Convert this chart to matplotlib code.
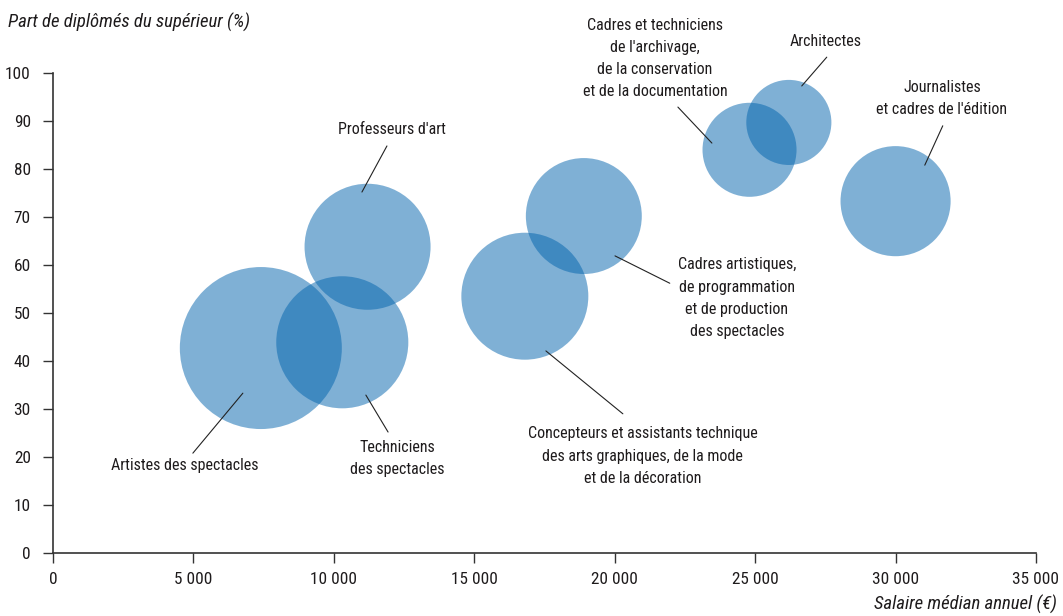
import matplotlib
matplotlib.use("Agg")
import matplotlib.pyplot as plt
from matplotlib import font_manager
from matplotlib.ticker import FuncFormatter, MultipleLocator

# police étroite si une est installée, sinon DejaVu Sans condensée
etroites = {"condensed", "semi-condensed", "extra-condensed", "ultra-condensed"}
police, stretch = "DejaVu Sans", "condensed"
for f in font_manager.fontManager.ttflist:
    if f.name in ("Liberation Sans Narrow", "Roboto Condensed", "Open Sans Condensed"):
        police, stretch = f.name, "normal"
        break
    if f.name in ("Noto Sans", "Roboto", "Open Sans") and str(f.stretch) in etroites:
        police, stretch = f.name, f.stretch
plt.rcParams["font.family"] = [police, "DejaVu Sans"]

metiers = [
    "Artistes des spectacles",
    "Techniciens\ndes spectacles",
    "Professeurs d'art",
    "Concepteurs et assistants technique\ndes arts graphiques, de la mode\net de la décoration",
    "Cadres artistiques,\nde programmation\net de production\ndes spectacles",
    "Cadres et techniciens\nde l'archivage,\nde la conservation\net de la documentation",
    "Architectes",
    "Journalistes\net cadres de l'édition",
]
salaire = [7400, 10300, 11200, 16800, 18900, 24800, 26200, 30000]
diplomes = [42.7, 43.9, 63.8, 53.5, 70.2, 84.0, 89.7, 73.3]
effectif = [65.6, 43.6, 39.7, 40.3, 33.6, 22.1, 18.1, 30.3]

# traits de rappel (début, fin) et centre des étiquettes
rappels = [
    ((6760, 33.3), (4980, 20.8), (4700, 18.3)),
    ((11140, 32.9), (11930, 25.2), (12250, 19.7)),
    ((11000, 75.2), (11890, 84.8), (12070, 88.3)),
    ((17550, 42.1), (20290, 29.0), (21000, 20.2)),
    ((20010, 61.9), (21960, 56.2), (24350, 53.1)),
    ((23460, 85.4), (22250, 92.9), (21430, 103.0)),
    ((26660, 97.3), (27550, 103.3), (27520, 106.5)),
    ((31040, 80.8), (31680, 89.0), (31650, 94.7)),
]

fig = plt.figure(figsize=(10.63, 6.16), dpi=100)
ax = fig.add_axes([53 / 1063, 63 / 616, 983 / 1063, 480 / 616])
rend = fig.canvas.get_renderer()

# taille de police réglée sur la largeur de "Artistes des spectacles" (~146 px)
essai = fig.text(0, 0, metiers[0], fontsize=10, fontstretch=stretch)
taille = 10 * 146 / essai.get_window_extent(rend).width
essai.set_fontsize(taille)
essai.set_linespacing(1.0)
h1 = essai.get_window_extent(rend).height
essai.set_text("A\nA")
pas = essai.get_window_extent(rend).height - h1
interligne = 24 / pas
essai.remove()

ax.scatter(salaire, diplomes, s=[e * 207.4 for e in effectif],
           color="#0163ad", alpha=0.5, linewidths=0, zorder=2)

for nom, (debut, fin, pos) in zip(metiers, rappels):
    ax.annotate("", xy=debut, xytext=fin,
                arrowprops=dict(arrowstyle="-", lw=0.8, color="#222222",
                                shrinkA=0, shrinkB=0), annotation_clip=False)
    ax.text(pos[0], pos[1], nom, ha="center", va="center", fontsize=taille,
            fontstretch=stretch, color="#1e1b1c", linespacing=interligne,
            clip_on=False)

ax.set_xlim(0, 35000)
ax.set_ylim(0, 100)
ax.xaxis.set_major_locator(MultipleLocator(5000))
ax.yaxis.set_major_locator(MultipleLocator(10))
ax.xaxis.set_major_formatter(FuncFormatter(lambda v, p: f"{int(v):,}".replace(",", " ")))

for cote in ["top", "right"]:
    ax.spines[cote].set_visible(False)
for cote in ["left", "bottom"]:
    ax.spines[cote].set_color("#333333")
    ax.spines[cote].set_linewidth(1.2)
ax.tick_params(direction="out", length=7, width=1, color="#333333",
               labelsize=taille * 1.08, labelcolor="#1e1b1c")
ax.tick_params(axis="x", pad=7)
ax.tick_params(axis="y", pad=9)
for lab in ax.get_xticklabels() + ax.get_yticklabels():
    lab.set_fontstretch(stretch)

fig.text(8 / 1063, 1 - 22 / 616, "Part de diplômés du supérieur (%)", ha="left",
         va="center", fontsize=taille * 1.17, style="italic", fontstretch=stretch,
         color="#1e1b1c")
fig.text(1057 / 1063, 1 - 604 / 616, "Salaire médian annuel (€)", ha="right",
         va="center", fontsize=taille * 1.17, style="italic", fontstretch=stretch,
         color="#1e1b1c")

fig.savefig("out.png", dpi=100)
